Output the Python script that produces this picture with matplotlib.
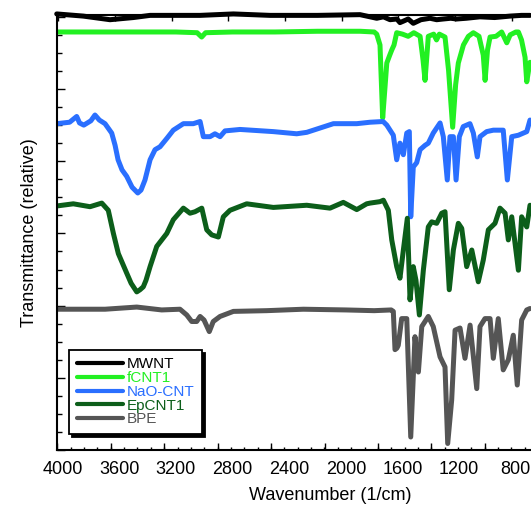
import numpy as np
import matplotlib
matplotlib.use("Agg")
import matplotlib.pyplot as plt

plt.rcParams['font.family'] = ['Liberation Sans', 'DejaVu Sans']

# spectra, wavenumber (1/cm) and offset transmittance (relative units)
mwnt_w = [4041, 3853, 3665, 3500, 3382, 3200, 3029, 2794, 2535, 2200, 1900, 1782, 1735,
          1688, 1640, 1618, 1594, 1560, 1524, 1470, 1406, 1359, 1312, 1260, 1218, 1150,
          1053, 950, 841, 760, 700]
mwnt_y = [6.04, 6.01, 5.96, 5.99, 6.02, 6.02, 6.02, 6.04, 6.02, 6.02, 6.03, 5.98, 6.00,
          5.96, 5.97, 5.92, 5.94, 5.97, 5.91, 5.96, 5.98, 5.96, 5.97, 5.98, 5.97, 5.98,
          6.00, 5.99, 6.01, 6.02, 6.02]

fcnt_w = [4041, 3600, 3200, 3050, 3018, 2990, 2800, 2500, 2200, 1900, 1800, 1782, 1759,
          1740, 1725, 1711, 1690, 1676, 1660, 1641, 1600, 1560, 1520, 1476, 1455, 1441,
          1425, 1418, 1380, 1360, 1340, 1300, 1275, 1246, 1225, 1206, 1170, 1135, 1100,
          1060, 1030, 1017, 1000, 982, 940, 900, 864, 840, 800, 782, 760, 735, 723, 710, 700]
fcnt_y = [5.79, 5.79, 5.79, 5.78, 5.72, 5.78, 5.79, 5.79, 5.80, 5.80, 5.79, 5.76, 5.61,
          4.60, 4.99, 5.36, 5.47, 5.54, 5.61, 5.78, 5.76, 5.73, 5.78, 5.73, 5.40, 5.12,
          5.54, 5.73, 5.76, 5.68, 5.76, 5.72, 5.26, 4.47, 5.06, 5.36, 5.61, 5.73, 5.78,
          5.73, 5.47, 5.12, 5.54, 5.72, 5.73, 5.79, 5.64, 5.75, 5.79, 5.79, 5.68, 5.44,
          5.10, 5.26, 5.37]

nao_w = [4041, 3950, 3900, 3880, 3850, 3800, 3771, 3740, 3700, 3653, 3629, 3608, 3580,
         3547, 3509, 3469, 3446, 3418, 3382, 3347, 3312, 3262, 3218, 3147, 3077, 3029,
         3006, 2959, 2924, 2888, 2853, 2747, 2512, 2347, 2276, 2088, 1923, 1829, 1737,
         1711, 1665, 1641, 1618, 1594, 1570, 1552, 1542, 1524, 1500, 1476, 1441, 1418,
         1383, 1335, 1312, 1284, 1265, 1241, 1222, 1199, 1171, 1124, 1100, 1072, 1053,
         1006, 959, 889, 860, 829, 782, 723, 700]
nao_y = [4.52, 4.54, 4.62, 4.53, 4.50, 4.56, 4.64, 4.57, 4.52, 4.39, 4.22, 4.02, 3.88,
         3.79, 3.64, 3.56, 3.60, 3.74, 4.02, 4.16, 4.20, 4.32, 4.43, 4.52, 4.52, 4.55,
         4.34, 4.34, 4.38, 4.34, 4.42, 4.44, 4.41, 4.38, 4.40, 4.52, 4.52, 4.54, 4.55,
         4.50, 4.36, 4.02, 4.25, 4.09, 4.39, 4.41, 3.23, 3.92, 3.98, 4.16, 4.22, 4.25,
         4.39, 4.53, 4.34, 3.74, 4.34, 4.34, 3.74, 4.34, 4.48, 4.52, 4.39, 4.06, 4.34,
         4.41, 4.43, 4.43, 3.74, 4.34, 4.36, 4.41, 4.57]

ep_w = [4041, 3924, 3806, 3723, 3677, 3641, 3606, 3547, 3516, 3476, 3453, 3430, 3411,
        3382, 3335, 3264, 3218, 3147, 3100, 3065, 3017, 2982, 2947, 2900, 2865, 2818,
        2700, 2512, 2276, 2112, 2018, 1923, 1853, 1829, 1759, 1735, 1700, 1676, 1641,
        1618, 1594, 1566, 1547, 1524, 1505, 1481, 1453, 1418, 1394, 1359, 1323, 1300,
        1270, 1241, 1206, 1182, 1147, 1111, 1065, 1030, 994, 947, 912, 876, 853, 829,
        782, 759, 723, 700]
ep_y = [3.38, 3.41, 3.37, 3.42, 3.32, 3.00, 2.72, 2.45, 2.31, 2.19, 2.22, 2.26, 2.35,
        2.54, 2.82, 3.00, 3.19, 3.35, 3.28, 3.30, 3.35, 3.05, 2.98, 2.95, 3.23, 3.32,
        3.41, 3.36, 3.39, 3.35, 3.43, 3.33, 3.41, 3.42, 3.44, 3.46, 3.32, 2.91, 2.54,
        2.38, 2.77, 3.21, 2.08, 2.54, 2.35, 1.87, 2.49, 3.09, 3.16, 3.14, 3.28, 3.30,
        2.22, 2.77, 3.14, 3.07, 2.54, 2.77, 2.33, 2.63, 3.05, 3.14, 3.35, 3.28, 2.91,
        3.23, 2.49, 3.23, 3.09, 3.39]

bpe_w = [4041, 3700, 3476, 3300, 3171, 3123, 3088, 3053, 3029, 3001, 2964, 2936, 2888,
         2794, 2559, 2300, 2000, 1800, 1680, 1665, 1653, 1640, 1630, 1606, 1570, 1542,
         1512, 1488, 1464, 1418, 1383, 1335, 1300, 1281, 1253, 1229, 1194, 1159, 1123,
         1076, 1053, 1018, 982, 959, 924, 889, 853, 818, 790, 759, 723, 700]
bpe_y = [1.95, 1.95, 1.98, 1.94, 1.95, 1.87, 1.78, 1.78, 1.85, 1.80, 1.64, 1.78, 1.85,
         1.92, 1.93, 1.95, 1.94, 1.93, 1.94, 1.92, 1.39, 1.41, 1.45, 1.82, 1.82, 0.18,
         1.57, 1.08, 1.71, 1.85, 1.71, 1.29, 1.15, 0.09, 0.69, 1.66, 1.69, 1.27, 1.73,
         0.85, 1.71, 1.82, 1.82, 1.27, 1.82, 1.11, 1.25, 1.59, 0.90, 1.80, 1.94, 1.96]

names = ['MWNT', 'fCNT1', 'NaO-CNT', 'EpCNT1', 'BPE']
colors = ['#000000', '#22f022', '#2a6fff', '#0c5e1a', '#555555']
series = [(mwnt_w, mwnt_y), (fcnt_w, fcnt_y), (nao_w, nao_y), (ep_w, ep_y), (bpe_w, bpe_y)]

tick_values = [4000, 3600, 3200, 2800, 2400, 2000, 1600, 1200, 800]

fig = plt.figure(figsize=(5.31, 5.09), dpi=100)
ax = fig.add_axes([0.1079, 0.1159, 0.8921, 0.8546])

for (w, y), name, c in zip(series, names, colors):
    ax.plot(w, y, color=c, lw=3.6, label=name, solid_joinstyle='round',
            solid_capstyle='round', clip_on=(name != 'MWNT'))

ax.set_xlim(4037, 693)
ax.set_ylim(0, 6.025)

# tick marks (the original marks do not line up exactly with the labels)
ax.set_xticks(4037 - 377.3 * np.arange(0, 9))
ax.set_xticks(4037 - 94.3 * np.arange(0, 36), minor=True)
ax.tick_params(axis='x', which='both', direction='in', labelbottom=False, width=1)
ax.tick_params(axis='x', which='major', length=5)
ax.tick_params(axis='x', which='minor', length=2.5)

ax.set_yticks(np.arange(0, 6.1, 1))
ax.set_yticks(np.arange(0, 6.1, 0.25), minor=True)
ax.tick_params(axis='y', which='both', direction='in', labelleft=False, width=1)
ax.tick_params(axis='y', which='major', length=6)
ax.tick_params(axis='y', which='minor', length=3.5)

top = ax.secondary_xaxis('top')
top.set_xticks([v + 30 for v in tick_values])
top.tick_params(direction='in', length=4, width=1, labeltop=False)
top.spines['top'].set_linewidth(1.5)

lab = ax.secondary_xaxis('bottom')
lab.set_xticks(tick_values)
lab.tick_params(length=0, pad=8, labelsize=13)
lab.spines['bottom'].set_visible(False)

for s in ['left', 'bottom']:
    ax.spines[s].set_linewidth(1.5)
ax.spines['right'].set_visible(False)
ax.spines['top'].set_visible(False)

ax.set_xlabel('Wavenumber (1/cm)', fontsize=13)
ax.xaxis.set_label_coords(0.5757, -0.085)
ax.set_ylabel('Transmittance (relative)', fontsize=13)
ax.yaxis.set_label_coords(-0.041, 0.5)

leg = ax.legend(loc='lower left', bbox_to_anchor=(0.025, 0.037), borderaxespad=0,
                fontsize=11, handlelength=3.0, handletextpad=0.25, labelspacing=-0.02,
                borderpad=0.5, fancybox=False, edgecolor='black',
                shadow={'color': 'black', 'alpha': 1.0})
leg.get_frame().set_linewidth(1.3)
for line, text, c in zip(leg.get_lines(), leg.get_texts(), colors):
    line.set_linewidth(3)
    text.set_color(c)

fig.savefig('out.png', dpi=100)
